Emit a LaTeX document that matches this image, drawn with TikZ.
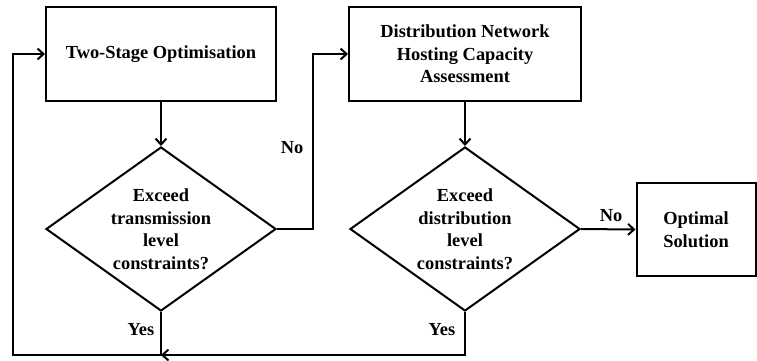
\documentclass[tikz,border=0pt]{standalone}
\usepackage{fontspec}
\setmainfont{Liberation Serif}
\usetikzlibrary{shapes.geometric,arrows.meta}
\begin{document}
\begin{tikzpicture}[x=1pt,y=-1pt,
  line width=2pt,
  every node/.style={font=\fontsize{18.4}{22.5}\selectfont\bfseries, inner sep=0pt},
  procbox/.style={draw, rectangle, align=center},
  decision/.style={draw, diamond, minimum width=230pt, minimum height=164pt},
  txt/.style={align=center},
  arr/.style={-{Straight Barb[length=6pt,width=11pt,line width=2pt]}}]
\useasboundingbox (0,0) rectangle (757,360);
\node[procbox, minimum width=230pt, minimum height=94pt] (b1) at (161,54) {Two-Stage Optimisation};
\node[procbox, minimum width=232pt, minimum height=94pt] (b2) at (465,54) {Distribution Network\\Hosting Capacity\\Assessment};
\node[procbox, minimum width=119pt, minimum height=93pt] (b3) at (696,229.5) {Optimal\\Solution};
\node[decision] (d1) at (161,229) {};
\node[txt] (t1) at (d1) {Exceed\\transmission\\level\\constraints?};
\node[decision] (d2) at (465,229) {};
\node[txt] (t2) at (d2) {Exceed\\distribution\\level\\constraints?};
\coordinate (c1) at (313,229);
\coordinate (j) at (161,355);
\coordinate (j2) at (465,355);
\coordinate (c0) at (13,355);
\draw[arr] (b1.south) -- (d1.north);
\draw[arr] (b2.south) -- (d2.north);
\draw[arr] (d1.east) -- (c1) |- (b2.west);
\draw[arr] (d2.east) -- (b3.west);
\draw[arr] (d2.south) -- (j2) -- (j);
\draw[arr] (d1.south) -- (j) -- (c0) |- (b1.west);
\node (no1) at (292,148) {No};
\node (no2) at (611,216) {No};
\node (yes1) at (141,330) {Yes};
\node (yes2) at (442,330) {Yes};
\end{tikzpicture}
\end{document}
